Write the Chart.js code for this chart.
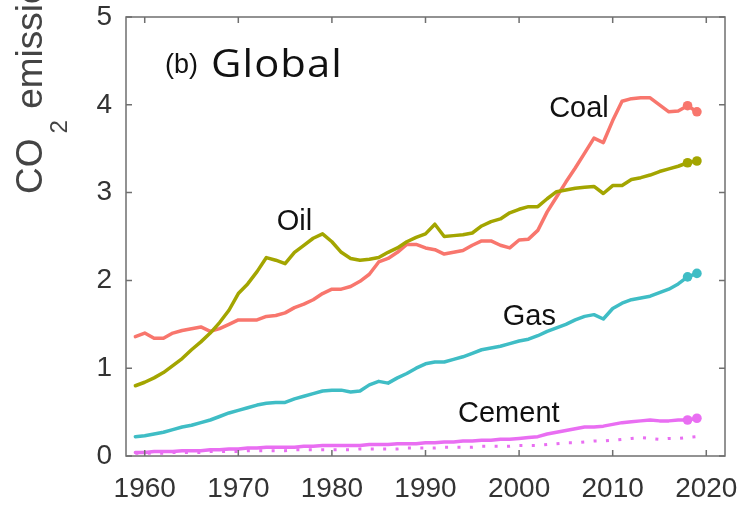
<!DOCTYPE html>
<html>
<head>
<meta charset="utf-8">
<script src="https://cdn.jsdelivr.net/npm/chart.js@4/dist/chart.umd.min.js"></script>
<style>
  html, body { margin: 0; padding: 0; background: #fff; }
  canvas { display: block; }
</style>
</head>
<body>
<canvas id="c" width="744" height="507"></canvas>
<script>
// Global fossil CO2 emissions by source (GtC per year)
const years = [1959,1960,1961,1962,1963,1964,1965,1966,1967,1968,1969,
  1970,1971,1972,1973,1974,1975,1976,1977,1978,1979,
  1980,1981,1982,1983,1984,1985,1986,1987,1988,1989,
  1990,1991,1992,1993,1994,1995,1996,1997,1998,1999,
  2000,2001,2002,2003,2004,2005,2006,2007,2008,2009,
  2010,2011,2012,2013,2014,2015,2016,2017,2018,2019];

const coal = [1.36,1.40,1.34,1.34,1.40,1.43,1.45,1.47,1.42,1.45,1.50,
  1.55,1.55,1.55,1.59,1.60,1.63,1.69,1.73,1.78,1.85,
  1.90,1.90,1.93,1.99,2.07,2.21,2.25,2.32,2.41,2.41,
  2.37,2.35,2.30,2.32,2.34,2.40,2.45,2.45,2.40,2.37,
  2.46,2.47,2.57,2.78,2.95,3.12,3.28,3.45,3.62,3.57,
  3.82,4.04,4.07,4.08,4.08,4.00,3.92,3.93,3.99,3.92];

const oil = [0.80,0.84,0.89,0.95,1.03,1.11,1.21,1.30,1.40,1.52,1.66,
  1.85,1.96,2.10,2.26,2.23,2.19,2.32,2.40,2.48,2.53,
  2.44,2.32,2.25,2.23,2.24,2.26,2.32,2.37,2.44,2.49,
  2.53,2.64,2.50,2.51,2.52,2.54,2.62,2.67,2.70,2.77,
  2.81,2.84,2.84,2.93,3.01,3.03,3.05,3.06,3.07,2.99,
  3.08,3.08,3.15,3.17,3.20,3.24,3.27,3.30,3.34,3.36];

const gas = [0.22,0.23,0.25,0.27,0.30,0.33,0.35,0.38,0.41,0.45,0.49,
  0.52,0.55,0.58,0.60,0.61,0.61,0.65,0.68,0.71,0.74,
  0.75,0.75,0.73,0.74,0.81,0.85,0.83,0.89,0.94,1.00,
  1.05,1.07,1.07,1.10,1.13,1.17,1.21,1.23,1.25,1.28,
  1.31,1.33,1.37,1.42,1.46,1.50,1.55,1.59,1.61,1.56,
  1.68,1.74,1.78,1.80,1.82,1.86,1.90,1.96,2.04,2.08];

const cement = [0.04,0.04,0.05,0.05,0.05,0.06,0.06,0.06,0.07,0.07,0.08,
  0.08,0.09,0.09,0.10,0.10,0.10,0.10,0.11,0.11,0.12,
  0.12,0.12,0.12,0.12,0.13,0.13,0.13,0.14,0.14,0.14,
  0.15,0.15,0.16,0.16,0.17,0.17,0.18,0.18,0.19,0.19,
  0.20,0.21,0.22,0.25,0.27,0.29,0.31,0.33,0.33,0.34,
  0.36,0.38,0.39,0.40,0.41,0.40,0.40,0.41,0.41,0.43];

// Cement net of carbonation uptake (dotted)
const cementNet = [0.03,0.03,0.03,0.03,0.04,0.04,0.04,0.04,0.05,0.05,0.05,
  0.05,0.06,0.06,0.06,0.06,0.06,0.07,0.07,0.07,0.07,
  0.07,0.07,0.07,0.08,0.08,0.08,0.08,0.08,0.09,0.09,
  0.09,0.09,0.10,0.10,0.10,0.10,0.11,0.11,0.11,0.11,
  0.12,0.12,0.12,0.13,0.14,0.15,0.15,0.16,0.17,0.17,
  0.18,0.19,0.20,0.21,0.20,0.19,0.20,0.20,0.21,0.22];

const xTicks = [1960,1970,1980,1990,2000,2010,2020];
const yTicks = [0,1,2,3,4,5];

// Inline series labels: text, year and value of the text baseline
const seriesLabels = ['Coal','Oil','Gas','Cement'];
const labelYears  = [2006.4, 1976.0, 2001.1, 1998.9];
const labelValues = [3.86, 2.57, 1.49, 0.39];

const COLORS = { coal:'#f8766d', oil:'#a3a500', gas:'#3fbdc5', cement:'#e96ef2' };

function pts(vals) { return years.map((yr, i) => ({ x: yr, y: vals[i] })); }
// the last two years are highlighted with dots
const lastTwo = ctx => (ctx.dataIndex >= years.length - 2 ? 4.8 : 0);

function series(label, vals, color) {
  return {
    label, data: pts(vals), borderColor: color, backgroundColor: color,
    borderWidth: 3.5, pointRadius: lastTwo, pointBorderWidth: 0,
    pointHoverRadius: 0, tension: 0, borderJoinStyle: 'round', borderCapStyle: 'round'
  };
}

const frame = {
  id: 'frame',
  afterDraw(chart) {
    const { ctx, chartArea: a, scales: { x, y } } = chart;
    ctx.save();
    // box and inward ticks
    ctx.strokeStyle = '#6f6f6f';
    ctx.lineWidth = 1.5;
    ctx.strokeRect(a.left, a.top, a.right - a.left, a.bottom - a.top);
    ctx.beginPath();
    xTicks.forEach(v => {
      const px = x.getPixelForValue(v);
      ctx.moveTo(px, a.bottom); ctx.lineTo(px, a.bottom - 6);
      ctx.moveTo(px, a.top); ctx.lineTo(px, a.top + 6);
    });
    yTicks.forEach(v => {
      const py = y.getPixelForValue(v);
      ctx.moveTo(a.left, py); ctx.lineTo(a.left + 6, py);
      ctx.moveTo(a.right, py); ctx.lineTo(a.right - 6, py);
    });
    ctx.stroke();

    // series labels
    ctx.fillStyle = '#111';
    ctx.font = '29px "Liberation Sans", Arial, sans-serif';
    ctx.textAlign = 'center';
    ctx.textBaseline = 'alphabetic';
    seriesLabels.forEach((t, i) => {
      ctx.fillText(t, x.getPixelForValue(labelYears[i]), y.getPixelForValue(labelValues[i]));
    });

    // panel title
    ctx.textAlign = 'left';
    ctx.font = '27px "Liberation Sans", Arial, sans-serif';
    ctx.fillText('(b)', a.left + 39, a.top + 56);
    ctx.save();
    ctx.font = '38px "Open Sans", "Noto Sans", sans-serif';
    ctx.letterSpacing = '1px';
    const gw = ctx.measureText('Global').width;
    const sx = 132 / gw;
    ctx.translate(a.left + 85, a.top + 60);
    ctx.scale(sx, 1);
    ctx.fillText('Global', 0, 0);
    ctx.restore();

    // y axis title, rotated, with subscript
    ctx.translate(42, 194);
    ctx.rotate(-Math.PI / 2);
    ctx.fillStyle = '#444';
    ctx.font = '37px "Liberation Sans", Arial, sans-serif';
    ctx.fillText('CO', 0, 0);
    const w1 = ctx.measureText('CO').width;
    ctx.font = '24px "Liberation Sans", Arial, sans-serif';
    ctx.fillText('2', w1 + 5, 25);
    const w2 = ctx.measureText('2').width;
    ctx.font = '37px "Liberation Sans", Arial, sans-serif';
    ctx.fillText(' emissions (GtC yr\u207B\u00B9)', w1 + w2 + 6, 0);
    ctx.restore();
  }
};

new Chart(document.getElementById('c'), {
  type: 'line',
  data: {
    datasets: [
      series('Gas', gas, COLORS.gas),
      series('Cement', cement, COLORS.cement),
      {
        label: 'Cement net', data: pts(cementNet), borderColor: COLORS.cement,
        borderWidth: 3, borderDash: [3, 9.4], borderCapStyle: 'butt',
        pointRadius: 0, pointHoverRadius: 0, tension: 0
      },
      series('Oil', oil, COLORS.oil),
      series('Coal', coal, COLORS.coal)
    ]
  },
  options: {
    responsive: false,
    devicePixelRatio: 1,
    animation: false,
    events: [],
    layout: { padding: { left: 0, right: 19, top: 0, bottom: 0 } },
    plugins: { legend: { display: false }, tooltip: { enabled: false }, title: { display: false } },
    scales: {
      x: {
        type: 'linear', min: 1958, max: 2022,
        afterBuildTicks: s => { s.ticks = xTicks.map(v => ({ value: v })); },
        afterFit: s => { s.height = 51; s.paddingLeft = 0; s.paddingRight = 0; },
        grid: { display: false, drawTicks: false },
        border: { display: false },
        ticks: {
          padding: 16, color: '#333', maxRotation: 0, autoSkip: false,
          font: { family: '"Liberation Sans", Arial, sans-serif', size: 28 },
          callback: v => String(v)
        }
      },
      y: {
        min: 0, max: 5,
        afterBuildTicks: s => { s.ticks = yTicks.map(v => ({ value: v })); },
        afterFit: s => { s.width = 126; s.paddingTop = 17; s.paddingBottom = 0; },
        grid: { display: false, drawTicks: false },
        border: { display: false },
        ticks: {
          padding: 14, color: '#333',
          font: { family: '"Liberation Sans", Arial, sans-serif', size: 28 },
          callback: v => String(v)
        }
      }
    }
  },
  plugins: [frame]
});
</script>
</body>
</html>
